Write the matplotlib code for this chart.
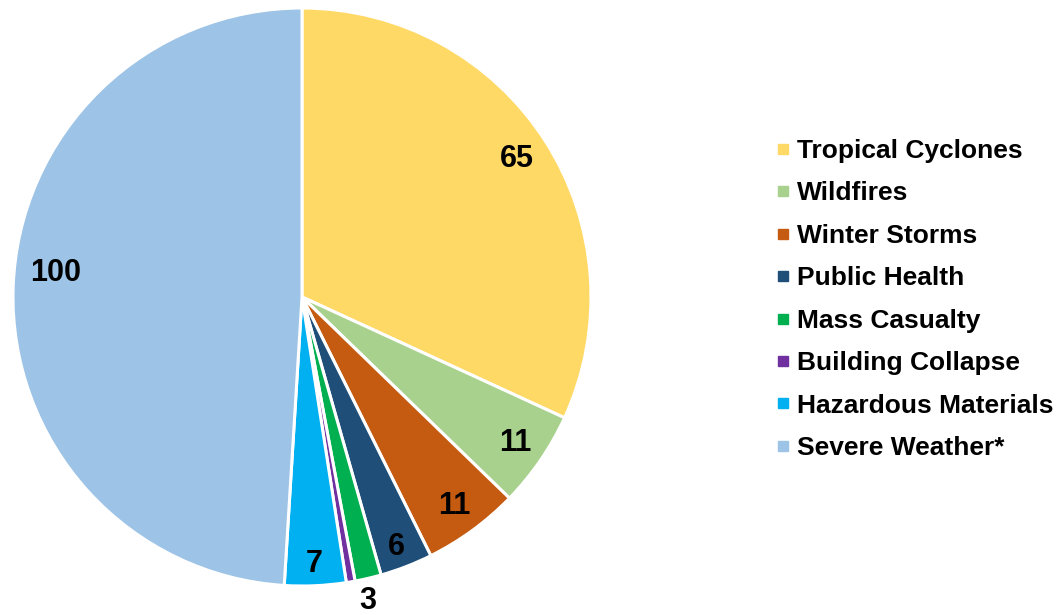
import matplotlib
matplotlib.use("Agg")
import matplotlib.pyplot as plt
from matplotlib.lines import Line2D
import numpy as np

categories = ["Tropical Cyclones", "Wildfires", "Winter Storms", "Public Health",
              "Mass Casualty", "Building Collapse", "Hazardous Materials", "Severe Weather*"]
values = [65, 11, 11, 6, 3, 1, 7, 100]
labels = ["65", "11", "11", "6", "3", "", "7", "100"]
colors = ["#FFD966", "#A9D18E", "#C55A11", "#1F4E79", "#00B050", "#7030A0", "#00B0F0", "#9DC3E6"]
label_radius = [0.885, 0.895, 0.895, 0.925, 1.075, 0.89, 0.925, 0.855]
label_angle_shift = [0, 0, 0, -0.5, -1.0, 0, 0, -3.8]

plt.rcParams['font.family'] = ['Liberation Sans', 'DejaVu Sans']

fig = plt.figure(figsize=(10.57, 6.15), dpi=100)
W, H = 1057, 615
cx, cy, r = 302, 297, 289
ax = fig.add_axes([(cx - r) / W, (H - cy - r) / H, 2 * r / W, 2 * r / H])
wedges, _ = ax.pie(values, colors=colors, startangle=90, counterclock=False,
                   wedgeprops=dict(edgecolor="white", linewidth=2.2), radius=1.0)
ax.set_xlim(-1, 1)
ax.set_ylim(-1, 1)
ax.set_aspect("equal")
ax.axis("off")

for w, lab, lr, da in zip(wedges, labels, label_radius, label_angle_shift):
    if not lab:
        continue
    ang = np.deg2rad((w.theta1 + w.theta2) / 2 + da)
    ax.text(lr * np.cos(ang), lr * np.sin(ang), lab, ha="center", va="center",
            fontsize=22, fontweight="bold", color="black", clip_on=False)

handles = [Line2D([], [], marker="s", linestyle="none", markersize=6.5,
                  markerfacecolor=c, markeredgecolor=c) for c in colors]
leg = fig.legend(handles, categories, loc="center left",
                 bbox_to_anchor=(775.5 / W, (H - 299.5) / H), frameon=False,
                 prop=dict(size=19, weight="bold"), labelspacing=0.7,
                 handlelength=0.6, handletextpad=0.2, borderpad=0, borderaxespad=0)

fig.savefig("out.png", dpi=100)
